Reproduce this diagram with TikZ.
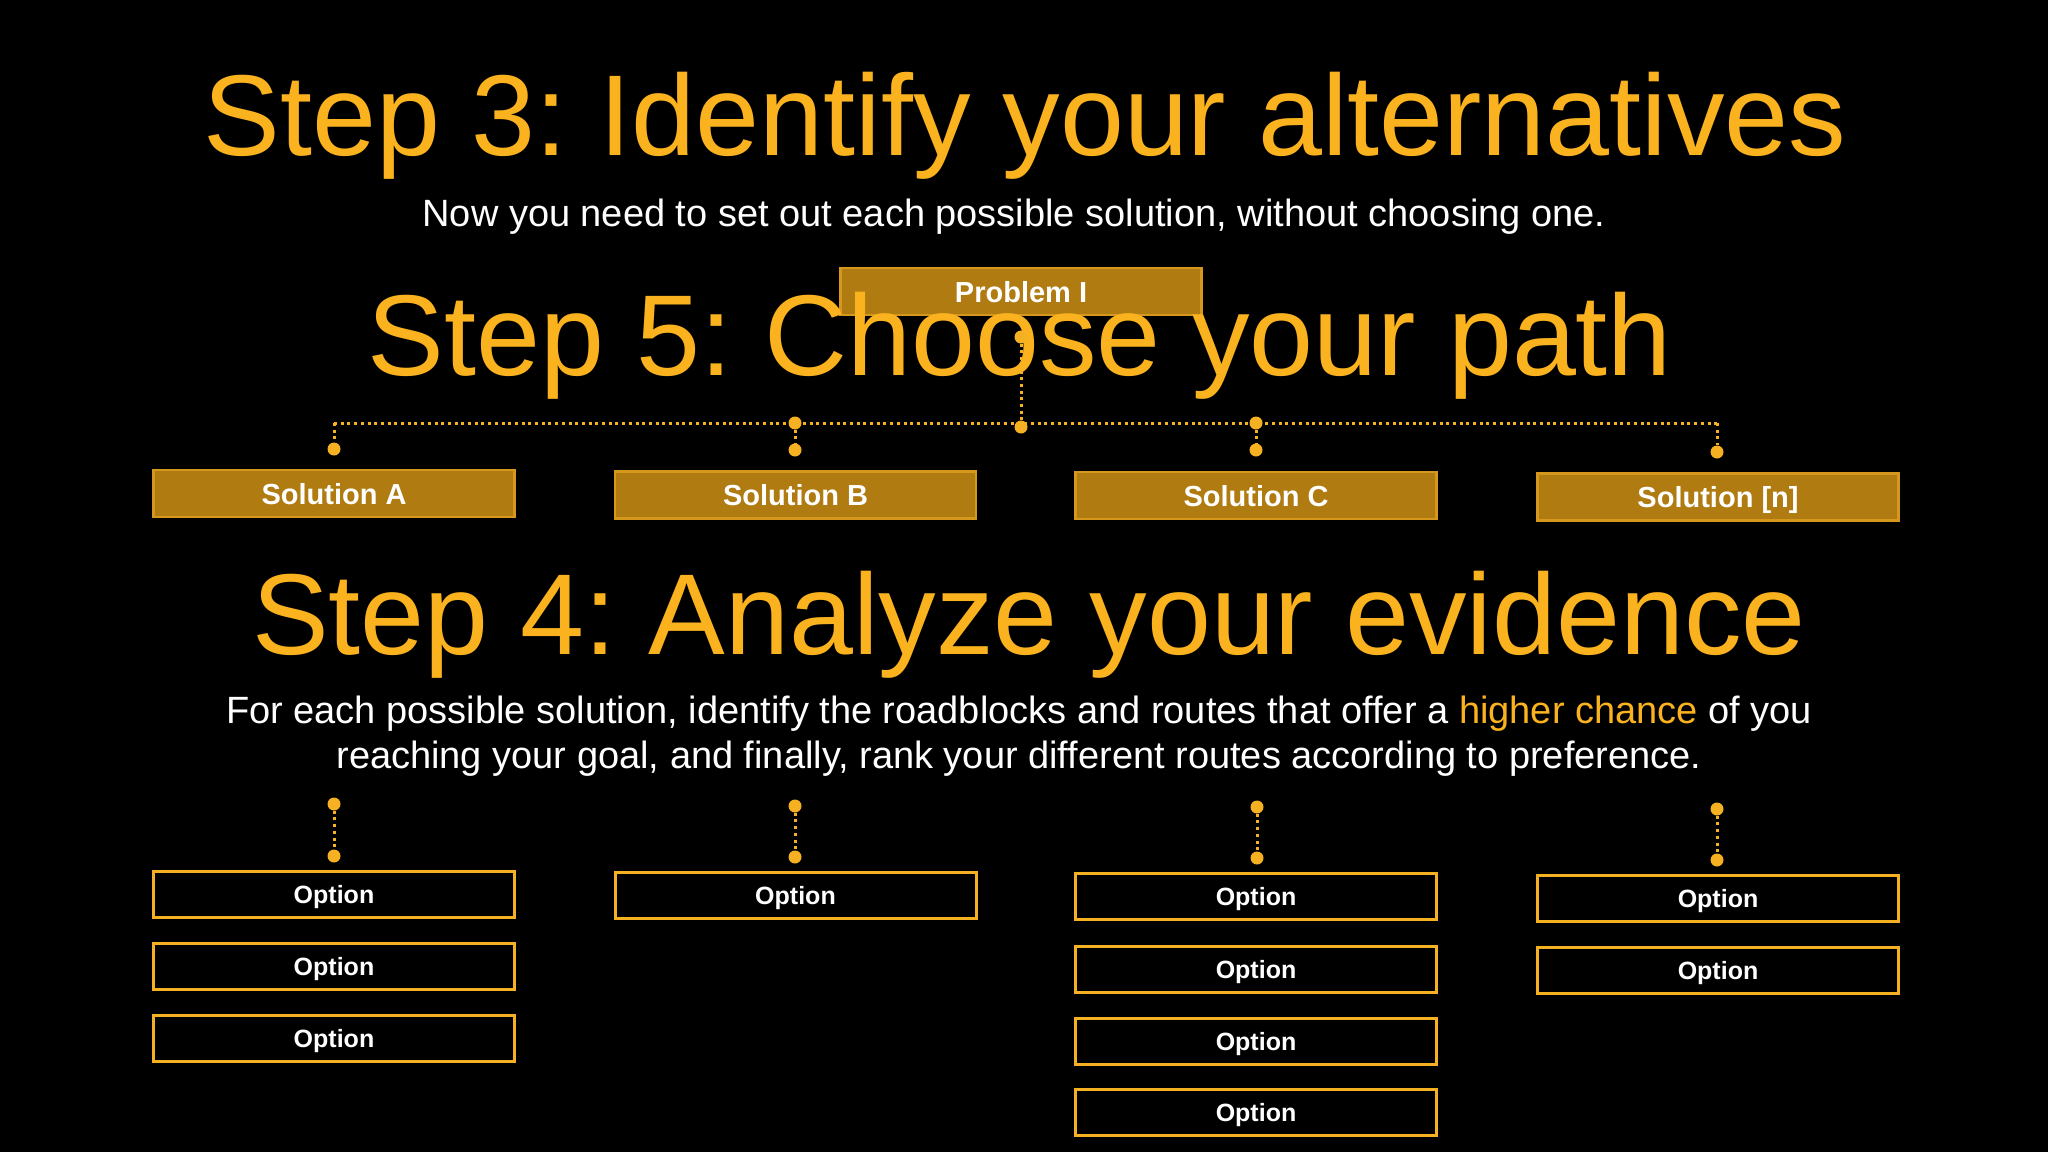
\documentclass[tikz,border=0pt]{standalone}
\usepackage{fontspec}
\setmainfont{Liberation Sans}
\usetikzlibrary{positioning}
\frenchspacing
\definecolor{gold}{HTML}{FAB31E}
\definecolor{solfill}{HTML}{B07C12}
\definecolor{soledge}{HTML}{D6981C}
\definecolor{optedge}{HTML}{F5B122}
\tikzset
{
    probnode/.style = {rectangle, draw=soledge, fill=solfill, line width=2.5pt, minimum width=361pt, minimum height=47pt, inner sep=0pt, text height=21pt, text depth=0pt, text=white, font=\fontsize{29}{34}\selectfont\bfseries},
    solnode/.style  = {probnode},
    optnode/.style  = {rectangle, draw=optedge, line width=3pt, minimum width=361pt, minimum height=46pt, inner sep=0pt, text height=18pt, text depth=0pt, text=white, font=\fontsize{25}{30}\selectfont\bfseries},
    joint/.style    = {circle, fill=optedge, inner sep=0pt, minimum size=13pt},
    link/.style     = {draw=optedge, line width=3pt, dash pattern=on 3pt off 3.7pt},
    heading/.style  = {anchor=base, text=gold, inner sep=0pt, font=\fontsize{115}{138}\selectfont},
    body/.style     = {anchor=base, text=white, inner sep=0pt, font=\fontsize{38}{47}\selectfont}
}

\begin{document}
\begin{tikzpicture}[x=1pt, y=-1pt]
\useasboundingbox (0,0) rectangle (2048,1152);
\fill[black] (0,0) rectangle (2048,1152);
% headings and text
\node [heading] at (1025,155) (step3) {Step 3: Identify your alternatives};
\node [body] at (1014,226) (intro) {Now you need to set out each possible solution, without choosing one.};
\node [probnode] at (1021,291.5) (prob) {Problem I};
\node [heading] at (1020,375) (step5) {Step 5: Choose your path};
\node [heading] at (1029,654) (step4) {Step 4: Analyze your evidence};
\node [body] at (1019,723) (paraA) {For each possible solution, identify the roadblocks and routes that offer a {\color{gold}higher chance} of you};
\node [body] at (1019,768) (paraB) {reaching your goal, and finally, rank your different routes according to preference.};
% solutions
\node [solnode] at (334,493.5) (solA) {Solution A};
\node [solnode] at (795.5,495) (solB) {Solution B};
\node [solnode] at (1256,495.5) (solC) {Solution C};
\node [solnode] at (1718,497) (solN) {Solution [n]};
% joints
\coordinate (cornA) at (334,423);
\coordinate (cornN) at (1717,423);
\node [joint] at (1021,337) (pTop) {};
\node [joint] at (1021,427) (pBot) {};
\node [joint] at (795,423) (jB) {};
\node [joint] at (1256,423) (jC) {};
\node [joint] at (334,449) (inA) {};
\node [joint] at (795,450) (inB) {};
\node [joint] at (1256,450) (inC) {};
\node [joint] at (1717,452) (inN) {};
\draw [link] (cornA) -- (cornN);
\draw [link] (pTop) -- (pBot);
\draw [link] (cornA) -- (inA);
\draw [link] (jB) -- (inB);
\draw [link] (jC) -- (inC);
\draw [link] (cornN) -- (inN);
% options
\node [joint] at (334,804) (topA) {};
\node [joint] at (334,856) (botA) {};
\node [joint] at (795,806) (topB) {};
\node [joint] at (795,857) (botB) {};
\node [joint] at (1257,807) (topC) {};
\node [joint] at (1257,858) (botC) {};
\node [joint] at (1717,809) (topN) {};
\node [joint] at (1717,860) (botN) {};
\draw [link] (topA) -- (botA);
\draw [link] (topB) -- (botB);
\draw [link] (topC) -- (botC);
\draw [link] (topN) -- (botN);
\node [optnode] at (334,894.5) (optA1) {Option};
\node [optnode] at (334,966.5) (optA2) {Option};
\node [optnode] at (334,1038.5) (optA3) {Option};
\node [optnode] at (795.5,895.5) (optB1) {Option};
\node [optnode] at (1256,896.5) (optC1) {Option};
\node [optnode] at (1256,969.5) (optC2) {Option};
\node [optnode] at (1256,1041.5) (optC3) {Option};
\node [optnode] at (1256,1112.5) (optC4) {Option};
\node [optnode] at (1718,898) (optN1) {Option};
\node [optnode] at (1718,970.5) (optN2) {Option};
\end{tikzpicture}
\end{document}
